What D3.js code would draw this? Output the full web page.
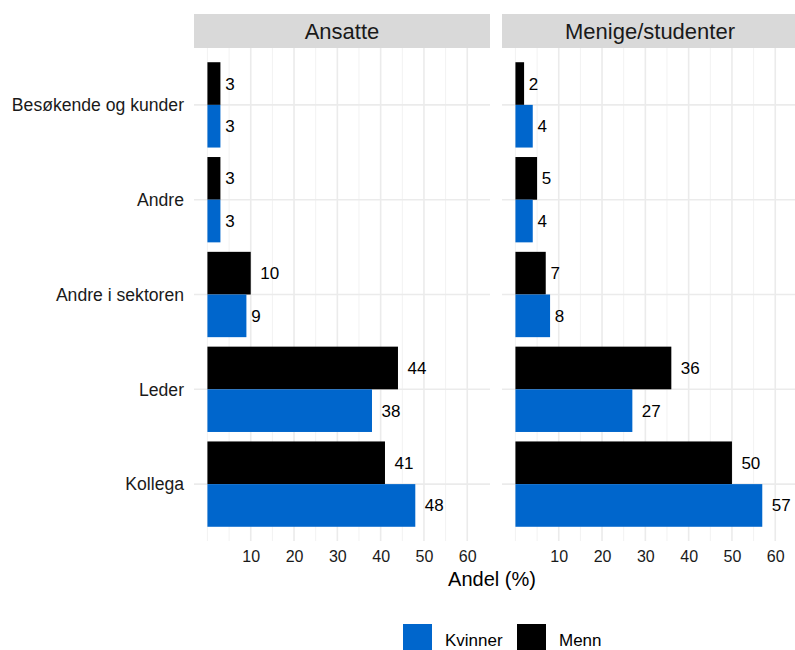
<!DOCTYPE html>
<html><head><meta charset="utf-8">
<script src="https://cdn.jsdelivr.net/npm/d3@7"></script>
<style>body{margin:0;background:#fff;} text{font-family:"Liberation Sans",Arial,sans-serif;}</style>
</head><body><svg id="c" width="795" height="650"></svg>
<script>
const categories = ["Besøkende og kunder","Andre","Andre i sektoren","Leder","Kollega"];
const panels = ["Ansatte","Menige/studenter"];
const groups = ["Menn","Kvinner"];
const legendOrder = ["Kvinner","Menn"];
const colors = {Kvinner:"#0066CC", Menn:"#000000"};
const ansatteKvinner = [3,3,9,38,48];
const ansatteMenn = [3,3,10,44,41];
const menigeKvinner = [4,4,8,27,57];
const menigeMenn = [2,5,7,36,50];
const xTicks = [10,20,30,40,50,60];
const xMinor = [0,5,15,25,35,45,55];
const xLabel = "Andel (%)";

const data = {
  "Ansatte": {Kvinner: ansatteKvinner, Menn: ansatteMenn},
  "Menige/studenter": {Kvinner: menigeKvinner, Menn: menigeMenn}
};

const svg = d3.select("#c");
const panelX = [194, 502], panelW = 296;
const pTop = 48, pBottom = 541, stripTop = 14;
const y = d3.scalePoint().domain(categories).range([pTop, pBottom]).padding(0.6);
const step = y.step();
const yc = c => y(c);
const bw = step*0.9/2;

panels.forEach((p, pi) => {
  const x0 = panelX[pi];
  const x = d3.scaleLinear().domain([-3.1, 65.25]).range([x0, x0 + panelW]);
  const g = svg.append("g");
  // strip
  g.append("rect").attr("x", x0).attr("y", stripTop).attr("width", panelW).attr("height", pTop - stripTop).attr("fill", "#D9D9D9");
  g.append("text").attr("x", x0 + panelW/2).attr("y", 39).attr("text-anchor","middle")
    .attr("font-size", 22).attr("fill", "#1A1A1A").text(p);
  // grid
  g.selectAll(".mn").data(xMinor).join("line").attr("x1", d=>x(d)).attr("x2", d=>x(d))
    .attr("y1", pTop).attr("y2", pBottom).attr("stroke", "#F2F2F2").attr("stroke-width", 1);
  g.selectAll(".mj").data(xTicks).join("line").attr("x1", d=>x(d)).attr("x2", d=>x(d))
    .attr("y1", pTop).attr("y2", pBottom).attr("stroke", "#EBEBEB").attr("stroke-width", 1.6);
  g.selectAll(".hy").data(categories).join("line").attr("x1", x0).attr("x2", x0+panelW)
    .attr("y1", d=>yc(d)).attr("y2", d=>yc(d)).attr("stroke", "#EBEBEB").attr("stroke-width", 1.6);
  // bars
  groups.forEach((grp, gi) => {
    const vals = data[p][grp];
    const bars = categories.map((c, i) => ({c, v: vals[i]}));
    g.selectAll(".b"+grp).data(bars).join("rect")
      .attr("x", x(0)).attr("width", d => x(d.v) - x(0))
      .attr("y", d => yc(d.c) - bw + gi*bw).attr("height", bw)
      .attr("fill", colors[grp]);
    const t = g.selectAll(".t"+grp).data(bars).join("text")
      .attr("y", d => yc(d.c) - bw/2 + gi*bw + 6)
      .attr("font-size", 17).attr("fill", "#000").text(d => d.v);
    t.each(function(d){ const w = this.getComputedTextLength(); d3.select(this).attr("x", x(d.v) + w*0.5); });
  });
  // x axis ticks
  const ax = g.append("g").attr("transform", `translate(0,${pBottom})`)
    .call(d3.axisBottom(x).tickValues(xTicks).tickSize(0).tickPadding(10));
  ax.select(".domain").remove();
  ax.selectAll("text").attr("font-size", 16).attr("fill", "#1A1A1A").attr("font-family", "Liberation Sans, Arial, sans-serif");
});

// y axis labels
svg.append("g").selectAll("text").data(categories).join("text")
  .attr("x", 184).attr("y", d => yc(d) + 6.3).attr("text-anchor", "end")
  .attr("font-size", 17.6).attr("fill", "#1A1A1A").text(d => d);

// x label
svg.append("text").attr("x", 492).attr("y", 586).attr("text-anchor", "middle")
  .attr("font-size", 20).attr("fill", "#000").text(xLabel);

// legend
const lg = svg.append("g");
const lx = [403, 517];
legendOrder.forEach((k, i) => {
  lg.append("rect").attr("x", lx[i]).attr("y", 624).attr("width", 29).attr("height", 29).attr("fill", colors[k]);
  lg.append("text").attr("x", lx[i] + 42).attr("y", 646).attr("font-size", 17).attr("fill", "#000").text(k);
});
</script></body></html>
